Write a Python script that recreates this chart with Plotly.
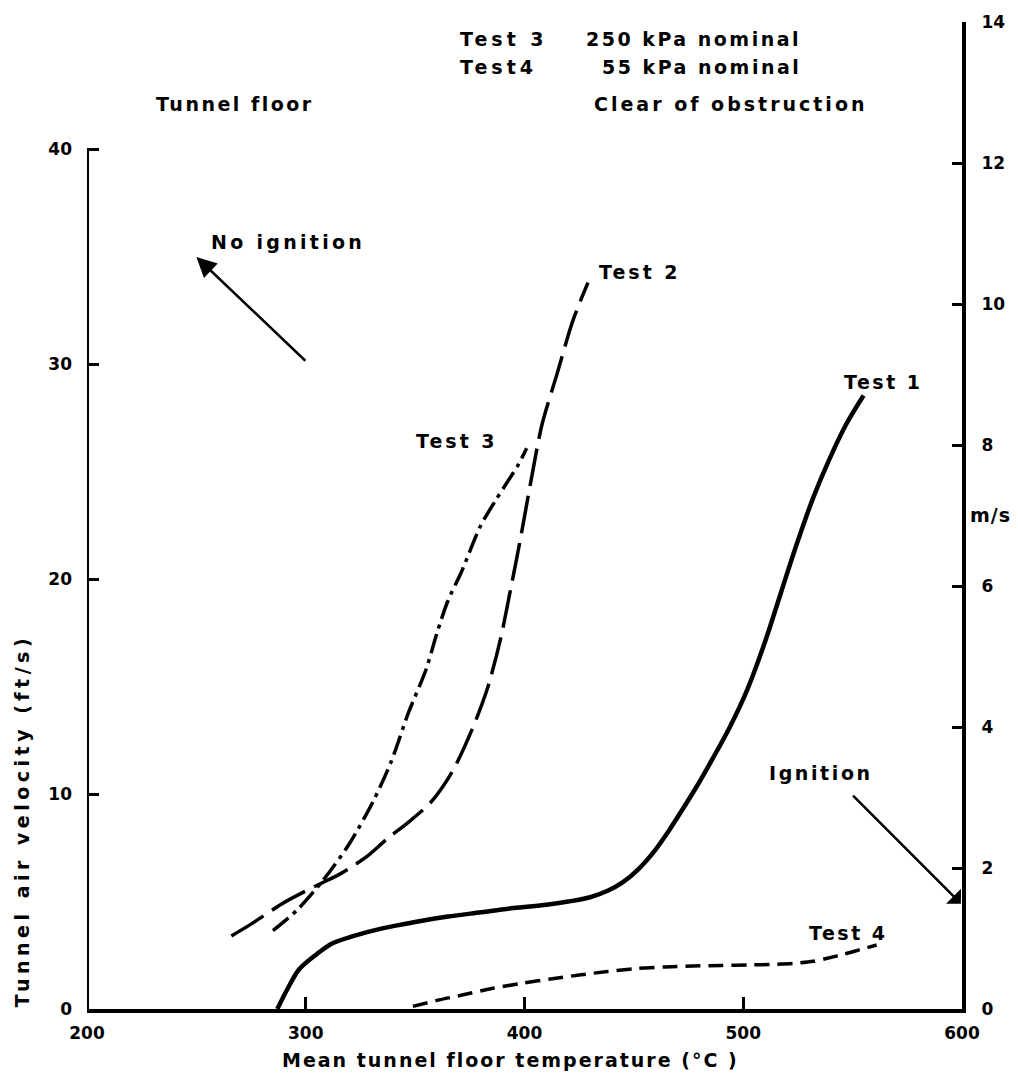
import plotly.graph_objects as go

# Mean tunnel floor temperature (deg C) vs tunnel air velocity (ft/s)
test1_temp = [287, 292, 297, 305, 312, 322, 335, 350, 365, 380, 395, 410, 420, 430, 438, 445,
              452, 459, 466, 472, 479, 486, 494, 502, 510, 517, 524, 532, 539, 547, 555]
test1_vel = [0.0, 1.0, 1.85, 2.55, 3.05, 3.4, 3.75, 4.05, 4.3, 4.5, 4.7, 4.85, 5.0, 5.2, 5.5, 5.9,
             6.5, 7.3, 8.3, 9.25, 10.4, 11.65, 13.15, 14.9, 17.1, 19.3, 21.5, 23.8, 25.5, 27.2,
             28.55]

test2_temp = [266, 275, 290, 305, 316, 328, 337, 347, 357, 367, 376, 383, 389, 393, 398, 403,
              408, 415, 422, 429]
test2_vel = [3.4, 3.95, 4.95, 5.75, 6.3, 7.1, 7.9, 8.7, 9.6, 11.05, 13.0, 14.9, 17.2, 19.2, 21.8,
             24.6, 27.2, 29.6, 32.0, 33.8]

test3_temp = [285, 296, 308, 320, 331, 339, 347, 355, 360, 365, 371, 380, 387, 392, 397, 401]
test3_vel = [3.65, 4.6, 6.0, 7.7, 9.7, 11.5, 13.8, 15.8, 17.5, 19.0, 20.3, 22.5, 23.7, 24.5, 25.3, 26.1]

test4_temp = [349, 360, 372, 385, 399, 412, 425, 438, 451, 464, 477, 490, 503, 514, 524, 532, 538,
              546, 553, 561]
test4_vel = [0.12, 0.4, 0.66, 0.95, 1.2, 1.4, 1.58, 1.75, 1.88, 1.96, 2.0, 2.03, 2.05, 2.08, 2.13,
             2.22, 2.35, 2.55, 2.75, 2.98]

x_ticks = [200, 300, 400, 500, 600]
y_ticks_fts = [0, 10, 20, 30, 40]
y_ticks_ms = [0, 2, 4, 6, 8, 10, 12, 14]

FT_PER_M = 1 / 0.3048
MS_TOP = 14
FTS_TOP = MS_TOP * FT_PER_M

FONT = "DejaVu Sans"
INK = "black"

# plot-area pixel frame used to place header/side texts in paper units
L, R, T, B = 87, 962, 15, 1009


def px(xp):
    return (xp - L) / (R - L)


def py(yp):
    return (B - yp) / (B - T)


def spaced(s, gap=3):
    return f'<span style="letter-spacing:{gap}px">{s}</span>'


fig = go.Figure()

fig.add_trace(go.Scatter(x=test1_temp, y=test1_vel, mode="lines",
                         line=dict(color=INK, width=4.5, shape="spline", smoothing=0.9),
                         name="Test 1", hoverinfo="skip"))
fig.add_trace(go.Scatter(x=test2_temp, y=test2_vel, mode="lines",
                         line=dict(color=INK, width=3.5, shape="spline", smoothing=0.8,
                                   dash="38px,10px"),
                         name="Test 2", hoverinfo="skip"))
fig.add_trace(go.Scatter(x=test3_temp, y=test3_vel, mode="lines",
                         line=dict(color=INK, width=3.5, shape="spline", smoothing=0.8,
                                   dash="20px,6px,4px,6px"),
                         name="Test 3", hoverinfo="skip"))
fig.add_trace(go.Scatter(x=test4_temp, y=test4_vel, mode="lines",
                         line=dict(color=INK, width=3.5, shape="spline", smoothing=0.8,
                                   dash="15px,8px"),
                         name="Test 4", hoverinfo="skip"))
# empty trace that activates the m/s axis on the right
fig.add_trace(go.Scatter(x=[], y=[], yaxis="y2", showlegend=False, hoverinfo="skip"))

tick_font = dict(family=FONT, size=17, color=INK, weight="bold")
label_font = dict(family=FONT, size=19, color=INK, weight="bold")

annotations = [
    # header
    dict(text=spaced("Test 3", 4), x=px(458), y=py(19), xref="paper", yref="paper",
         xanchor="left"),
    dict(text=spaced("250 kPa nominal", 2.5), x=px(803), y=py(19), xref="paper", yref="paper",
         xanchor="right"),
    dict(text=spaced("Test4", 4), x=px(458), y=py(47), xref="paper", yref="paper",
         xanchor="left"),
    dict(text=spaced("55 kPa nominal", 2.5), x=px(803), y=py(47), xref="paper", yref="paper",
         xanchor="right"),
    dict(text=spaced("Tunnel floor", 2.5), x=px(235), y=py(84), xref="paper", yref="paper",
         xanchor="center"),
    dict(text=spaced("Clear of obstruction", 3.0), x=px(592), y=py(84), xref="paper",
         yref="paper", xanchor="left"),
    # axis titles
    dict(text=spaced("Tunnel air velocity (ft/s)", 4.5), x=px(22), y=py(820), xref="paper",
         yref="paper", textangle=-90, xanchor="center", yanchor="middle"),
    dict(text=spaced("Mean tunnel floor temperature (°C )", 2.0), x=px(510), y=py(1060),
         xref="paper", yref="paper", xanchor="center", yanchor="middle"),
    dict(text=spaced("m/s", 1), x=px(990), y=py(511), xref="paper", yref="paper",
         xanchor="center"),
    # curve labels
    dict(text=spaced("Test 1", 2.5), x=564, y=29.2, xref="x", yref="y"),
    dict(text=spaced("Test 2", 3), x=453, y=34.3, xref="x", yref="y"),
    dict(text=spaced("Test 3", 3), x=369, y=26.45, xref="x", yref="y"),
    dict(text=spaced("Test 4", 2.5), x=548, y=3.55, xref="x", yref="y"),
    dict(text=spaced("No ignition", 3.3), x=292, y=35.7, xref="x", yref="y"),
    dict(text=spaced("Ignition", 2.6), x=535.5, y=11.0, xref="x", yref="y"),
    # arrows
    dict(text="", x=250, y=35.0, ax=300.5, ay=30.1, xref="x", yref="y", axref="x", ayref="y",
         showarrow=True, arrowhead=2, arrowsize=1.6, arrowwidth=2.5, arrowcolor=INK),
    dict(text="", x=599.5, y=4.9, ax=549.5, ay=10.0, xref="x", yref="y", axref="x", ayref="y",
         showarrow=True, arrowhead=1, arrowsize=1.4, arrowwidth=2.5, arrowcolor=INK),
]
for a in annotations:
    a.setdefault("showarrow", False)
    a["font"] = label_font

fig.update_layout(
    width=1018, height=1080,
    margin=dict(l=L, r=1018 - R, t=T, b=1080 - B),
    paper_bgcolor="white", plot_bgcolor="white",
    showlegend=False,
    xaxis=dict(range=[200, 600], tickvals=x_ticks, ticks="inside", ticklen=12, tickwidth=2.5,
               tickcolor=INK, showline=True, linewidth=4, linecolor=INK, showgrid=False,
               zeroline=False, tickfont=tick_font, ticklabelstandoff=6),
    yaxis=dict(range=[0, FTS_TOP], tickvals=y_ticks_fts, ticks="inside", ticklen=12,
               tickwidth=2.5, tickcolor=INK, showline=False, showgrid=False, zeroline=False,
               tickfont=tick_font, ticklabelstandoff=14),
    yaxis2=dict(range=[0, MS_TOP], tickvals=y_ticks_ms, overlaying="y", side="right",
                ticks="inside", ticklen=10, tickwidth=2.5, tickcolor=INK, showline=True,
                linewidth=4, linecolor=INK, showgrid=False, zeroline=False, tickfont=tick_font,
                ticklabelstandoff=12),
    annotations=annotations,
    shapes=[dict(type="line", xref="x", yref="y", x0=200, x1=200, y0=0, y1=40,
                 line=dict(color=INK, width=4))],
)

fig.write_html("out.html")
